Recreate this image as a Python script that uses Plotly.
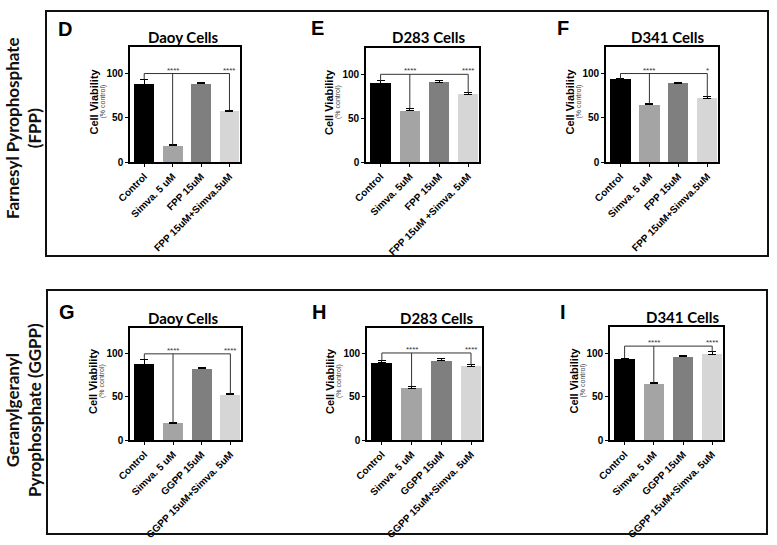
import plotly.graph_objects as go

W, H = 777, 545

# ---------------- data ----------------
panel_letters = ["D", "E", "F", "G", "H", "I"]
panel_titles = ["Daoy Cells", "D283 Cells", "D341 Cells", "Daoy Cells", "D283 Cells", "D341 Cells"]

labels_D = ["Control", "Simva. 5 uM", "FPP 15uM", "FPP 15uM+Simva.5uM"]
labels_E = ["Control", "Simva. 5uM", "FPP 15uM", "FPP 15uM +Simva. 5uM"]
labels_F = ["Control", "Simva. 5 uM", "FPP 15uM", "FPP 15uM+Simva.5uM"]
labels_G = ["Control", "Simva. 5 uM", "GGPP 15uM", "GGPP 15uM+Simva. 5uM"]
labels_H = ["Control", "Simva. 5 uM", "GGPP 15uM", "GGPP 15uM+Simva. 5uM"]
labels_I = ["Control", "Simva. 5 uM", "GGPP 15uM", "GGPP 15uM+Simva. 5uM"]

values_D = [88, 18.5, 88.5, 57.5]
values_E = [90, 58.5, 91, 77.5]
values_F = [93.5, 65, 89, 72]
values_G = [88, 19.5, 82.5, 52.5]
values_H = [89.5, 60, 92, 85.5]
values_I = [93.5, 64.5, 95.5, 98.5]

err_D = [5.5, 1, 1, 1.2]
err_E = [2.5, 2.5, 2.5, 1.5]
err_F = [0.8, 1.2, 1, 2]
err_G = [6, 1, 1.5, 1.2]
err_H = [3, 2.5, 2.5, 1.8]
err_I = [0.8, 2, 2, 3]

bracket_level = [100, 100, 100, 100, 101, 108]
stars_D = ["****", "****"]
stars_E = ["****", "****"]
stars_F = ["****", "*"]
stars_G = ["****", "****"]
stars_H = ["****", "****"]
stars_I = ["****", "****"]
compared = [1, 3]

y_ticks = [0, 50, 100]
bar_colors = ["#000000", "#a4a4a4", "#7f7f7f", "#d6d6d6"]

labels = [labels_D, labels_E, labels_F, labels_G, labels_H, labels_I]
values = [values_D, values_E, values_F, values_G, values_H, values_I]
errs = [err_D, err_E, err_F, err_G, err_H, err_I]
stars = [stars_D, stars_E, stars_F, stars_G, stars_H, stars_I]

# ---------------- layout geometry (pixels) ----------------
frames = [
    (130, 240, 47, 162),
    (366, 479, 48, 162),
    (606, 718, 47, 162),
    (130, 241, 328, 440),
    (367, 482, 328, 440),
    (610, 723, 327, 440),
]
letter_pos = [(65, 29), (317, 28), (563, 28), (67, 312), (319, 312), (563, 312)]
title_pos = [(183, 37), (428, 37), (667, 37), (183, 318), (437, 318), (682, 317)]


def px(x):
    return x / W


def py(y):
    return 1 - y / H


def ann(x, y, text, size, family, color="#000", angle=0, xref="paper", yref="paper",
        xanchor="center", yanchor="middle", yshift=0):
    return dict(x=x, y=y, xref=xref, yref=yref, text=text, showarrow=False,
                textangle=angle, xanchor=xanchor, yanchor=yanchor, yshift=yshift,
                font=dict(family=family, size=size, color=color))


fig = go.Figure()
annotations = []
shapes = []

# outer boxes
shapes.append(dict(type="rect", xref="paper", yref="paper",
                   x0=px(46), x1=px(768), y0=py(256), y1=py(11),
                   line=dict(color="#111", width=2)))
shapes.append(dict(type="rect", xref="paper", yref="paper",
                   x0=px(47), x1=px(767), y0=py(534), y1=py(290),
                   line=dict(color="#111", width=2)))

ARIAL = "Liberation Sans, Arial"
CAL = "Lato, Open Sans"

for i in range(6):
    n = "" if i == 0 else str(i + 1)
    xa, ya = "x" + n, "y" + n
    x0, x1, y0, y1 = frames[i]
    xs = list(range(len(labels[i])))
    fig.add_trace(go.Bar(
        x=xs, y=values[i], xaxis=xa, yaxis=ya, width=0.7,
        marker=dict(color=bar_colors, line=dict(width=0)),
        error_y=dict(type="data", symmetric=False, array=errs[i],
                     arrayminus=[0] * 4, color="#000", thickness=1, width=4),
        showlegend=False, hoverinfo="skip",
    ))
    axis_common = dict(showline=True, mirror=True, linecolor="#000", linewidth=1.6,
                       showgrid=False, zeroline=False, ticks="outside", ticklen=3,
                       tickcolor="#000", tickwidth=1.2, automargin=False)
    fig.update_layout(**{
        ("xaxis" + n): dict(domain=[px(x0), px(x1)], anchor=ya, range=[-0.5, 3.37],
                            tickvals=xs, ticktext=labels[i], tickangle=-45,
                            tickfont=dict(family=ARIAL, size=10, color="#000", weight="bold"),
                            **axis_common),
        ("yaxis" + n): dict(domain=[py(y1), py(y0)], anchor=xa, range=[0, 130],
                            tickvals=y_ticks,
                            tickfont=dict(family=ARIAL, size=10, color="#000", weight="bold"),
                            **axis_common),
    })
    # significance bracket
    b = bracket_level[i]
    shapes.append(dict(type="line", xref=xa, yref=ya, x0=0, x1=3, y0=b, y1=b,
                       line=dict(color="#333", width=1)))
    shapes.append(dict(type="line", xref=xa, yref=ya, x0=0, x1=0, y0=b,
                       y1=values[i][0] + errs[i][0], line=dict(color="#333", width=1)))
    for k, c in enumerate(compared):
        shapes.append(dict(type="line", xref=xa, yref=ya, x0=c, x1=c, y0=b,
                           y1=values[i][c] + errs[i][c], line=dict(color="#333", width=1)))
        annotations.append(ann(c, b, stars[i][k], 8, ARIAL, "#333", xref=xa, yref=ya,
                               yanchor="bottom", yshift=-3))
    # y-axis title
    yc = (y0 + y1) / 2 - 3
    annotations.append(ann(px(x0 - 37), py(yc), "<b>Cell Viability</b>", 11, ARIAL, angle=-90))
    annotations.append(ann(px(x0 - 28), py(yc), "(% control)", 7, ARIAL, "#444", angle=-90))
    # panel title and letter
    annotations.append(ann(px(title_pos[i][0]), py(title_pos[i][1]),
                           "<b>" + panel_titles[i] + "</b>", 15, CAL))
    annotations.append(ann(px(letter_pos[i][0]), py(letter_pos[i][1]),
                           "<b>" + panel_letters[i] + "</b>", 20, ARIAL))

# row labels
annotations.append(ann(px(23), py(128), "<b>Farnesyl Pyrophosphate<br>(FPP)</b>", 17, CAL,
                       "#111", angle=-90))
annotations.append(ann(px(23), py(410), "<b>Geranylgeranyl<br>Pyrophosphate (GGPP)</b>", 17,
                       CAL, "#111", angle=-90))

fig.update_layout(width=W, height=H, autosize=False,
                  margin=dict(l=0, r=0, t=0, b=0, pad=0),
                  paper_bgcolor="white", plot_bgcolor="white",
                  shapes=shapes, annotations=annotations, bargap=0)

fig.write_html("out.html", config={"displayModeBar": False},
               post_script="document.body.style.margin='0px';")
